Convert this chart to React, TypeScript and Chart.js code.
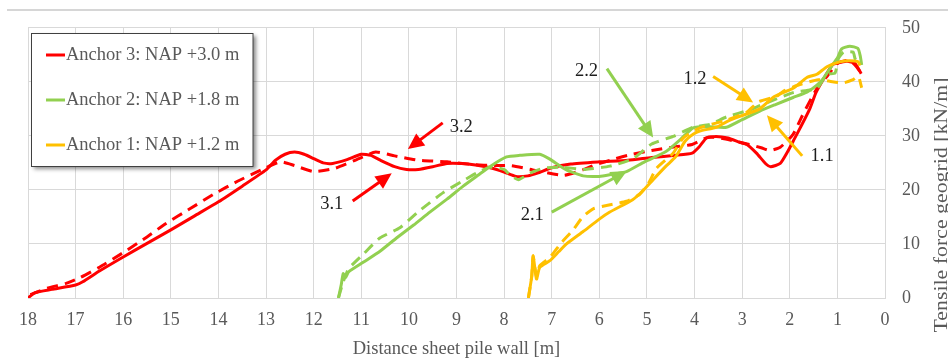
import React, { useEffect, useRef } from 'react';
import { Chart, registerables } from 'chart.js';

Chart.register(...registerables);

// ---- Data (distance to sheet pile wall [m], tensile force [kN/m]) ----
const anchor3Solid: number[][] = [
  [18, 0], [17.85, 1], [17.5, 1.6], [17, 2.4], [16.85, 3], [16.5, 5], [16, 7.6], [15.5, 10.1],
  [15, 12.6], [14.5, 15.2], [14, 17.8], [13.5, 20.7], [13, 23.7], [12.8, 25.5], [12.6, 26.6],
  [12.4, 27.0], [12.2, 26.6], [12, 25.8], [11.8, 25.0], [11.6, 24.9], [11.3, 25.6], [11, 26.6],
  [10.8, 26.4], [10.6, 25.5], [10.3, 24.3], [10.05, 23.8], [9.8, 23.8], [9.5, 24.3], [9.2, 24.9],
  [8.9, 24.9], [8.6, 24.6], [8.25, 24.0], [8, 23.3], [7.75, 22.5], [7.5, 22.6], [7.3, 23.1],
  [7, 24.1], [6.6, 24.8], [6, 25.2], [5.4, 25.5], [4.9, 26.0], [4.4, 26.4], [4.05, 26.8],
  [3.9, 28.0], [3.75, 29.6], [3.55, 29.9], [3.3, 29.6], [3.05, 28.8], [2.9, 28.4], [2.7, 26.8],
  [2.5, 24.8], [2.4, 24.3], [2.2, 24.9], [2.05, 27], [1.9, 29.5], [1.75, 32], [1.58, 35],
  [1.45, 38], [1.3, 40.4], [1.1, 43.2], [1.0, 43.5], [0.8, 43.8], [0.63, 43.4], [0.5, 41.5],
];
const anchor3Dashed: number[][] = [
  [17.95, 0.6], [17.6, 1.8], [17.2, 2.7], [16.9, 3.8], [16.5, 5.7], [16, 8.4], [15.5, 11.3],
  [15.1, 13.8], [14.6, 16.5], [14.1, 19.2], [13.6, 21.6], [13.1, 23.7], [12.7, 25.2], [12.4, 24.5],
  [12, 23.4], [11.55, 24.0], [11.05, 25.8], [10.7, 27.0], [10.3, 26.3], [9.8, 25.5], [9.2, 25.2],
  [8.65, 24.7], [8.2, 24.5], [7.85, 24.5], [7.4, 23.7], [6.75, 22.7], [6.35, 23.7], [6.1, 24.6],
  [5.65, 25.8], [5.4, 26.4], [4.9, 27.3], [4.4, 28], [4.05, 28.4], [3.7, 29.8], [3.35, 29.4],
  [2.85, 28.4], [2.6, 27.8], [2.42, 27.3], [2.2, 27.9], [1.93, 30.3], [1.75, 33.5], [1.55, 36.9],
  [1.4, 39.2], [1.22, 41.0], [1.0, 43.4], [0.75, 44.0], [0.6, 42.8], [0.5, 41.6],
];
const anchor2Solid: number[][] = [
  [11.48, 0], [11.42, 2.5], [11.38, 4.5], [11.33, 3.8], [11.27, 4.8], [10.96, 6.6], [10.6, 8.7],
  [10.26, 11.1], [9.9, 13.5], [9.56, 15.9], [9.2, 18.3], [8.86, 20.7], [8.55, 22.7], [8.3, 24.3],
  [7.95, 26.1], [7.67, 26.4], [7.25, 26.6], [7.04, 25.7], [6.69, 23.7], [6.34, 22.6], [6.0, 22.5],
  [5.78, 22.8], [5.43, 23.4], [5.05, 25.2], [4.6, 27.1], [4.3, 29.3], [4.03, 31.5], [3.7, 31.7],
  [3.33, 31.6], [3.0, 33.0], [2.63, 34.6], [2.3, 35.8], [1.93, 37.1], [1.64, 38.1], [1.43, 39.4],
  [1.29, 40.7], [1.1, 43.2], [1.0, 44.4], [0.91, 46.1], [0.74, 46.6], [0.57, 46.2], [0.52, 44.8],
  [0.49, 43.1],
];
const anchor2Dashed: number[][] = [
  [11.48, 0], [11.38, 3], [11.3, 4.8], [11.24, 5.7], [10.96, 8.1], [10.61, 11.1], [10.19, 13.0],
  [9.77, 16.2], [9.28, 19.5], [8.9, 21.5], [8.58, 23.1], [8.3, 24.2], [8.0, 23.8], [7.88, 22.8],
  [7.7, 21.9], [7.46, 23.1], [7.18, 24.0], [6.8, 24.2], [6.3, 23.8], [5.78, 24.4], [5.29, 25.8],
  [4.9, 28.5], [4.45, 29.9], [4.03, 31.6], [3.68, 32.1], [3.33, 33.5], [2.84, 34.8], [2.63, 35.6],
  [1.93, 38.0], [1.43, 38.8], [1.22, 41.4], [1.05, 41.6], [0.98, 44.3], [0.87, 45.5], [0.67, 45.5],
  [0.63, 44.3], [0.6, 44.0],
];
const anchor1Solid: number[][] = [
  [7.49, 0], [7.42, 4], [7.39, 7.8], [7.32, 3.5], [7.25, 5.7], [7.04, 6.9], [6.85, 8.6], [6.69, 10.0],
  [6.34, 12.3], [6.0, 14.6], [5.78, 15.9], [5.3, 18.2], [5.08, 19.9], [4.87, 21.9], [4.6, 24.4],
  [4.4, 26.1], [4.2, 29.0], [4.03, 30.3], [3.89, 30.9], [3.54, 31.6], [3.33, 32.6], [3.05, 33.6],
  [2.63, 35.0], [2.34, 37.2], [1.93, 38.8], [1.64, 40.8], [1.43, 41.4], [1.22, 42.8], [0.95, 43.7],
  [0.74, 43.9], [0.56, 43.7], [0.53, 43.0],
];
const anchor1Dashed: number[][] = [
  [7.49, 0], [7.42, 4], [7.39, 7.8], [7.32, 4], [7.25, 6], [7.04, 7.5], [6.8, 10.2], [6.55, 12.6],
  [6.35, 15.0], [6.13, 16.5], [5.8, 17.2], [5.43, 17.9], [5.15, 19.2], [4.95, 21.5], [4.8, 24.0],
  [4.45, 26.8], [4.24, 29.6], [3.89, 31.5], [3.33, 32.9], [2.9, 34.4], [2.66, 36.3], [2.28, 37.3],
  [2.13, 38.3], [1.79, 39.5], [1.4, 40.4], [1.16, 40.1], [0.88, 39.8], [0.67, 40.4], [0.56, 41.0],
  [0.49, 38.9],
];

const legendLabels = ['Anchor 3: NAP +3.0 m', 'Anchor 2: NAP +1.8 m', 'Anchor 1: NAP +1.2 m'];
const xTitle = 'Distance sheet pile wall [m]';
const yTitle = 'Tensile force geogrid [kN/m]';

// Arrow annotations (in data units)
const arrowLabels = ['3.2', '3.1', '2.2', '2.1', '1.2', '1.1'];
const arrowTails = [[9.29, 32.4], [11.18, 17.95], [5.84, 42.46], [7.0, 15.9], [3.61, 41.0], [1.74, 26.3]];
const arrowTips = [[10.02, 27.56], [10.36, 23.07], [4.87, 29.7], [5.42, 23.5], [2.77, 36.2], [2.48, 33.8]];
const arrowTextAt = [[8.9, 31.7], [11.62, 17.4], [6.27, 41.9], [7.41, 15.35], [3.99, 40.5], [1.32, 26.3]];

const RED = '#FF0000';
const GREEN = '#92D050';
const YELLOW = '#FFC000';
const arrowColors = [RED, RED, GREEN, GREEN, YELLOW, YELLOW];
const legendColors = [RED, GREEN, YELLOW];

const FONT = '"Liberation Serif", "Times New Roman", serif';
const TEXT_GRAY = '#595959';

const toPts = (arr: number[][]) => arr.map(([x, y]) => ({ x, y }));
const mk = (label: string, data: number[][], color: string, dashed: boolean) => ({
  label,
  data: toPts(data),
  borderColor: color,
  backgroundColor: color,
  borderWidth: 3,
  borderDash: dashed ? [11, 7] : [],
  borderCapStyle: 'butt' as const,
  borderJoinStyle: 'round' as const,
  pointRadius: 0,
  pointHoverRadius: 0,
  showLine: true,
  tension: 0.18,
  fill: false,
});

const decorPlugin = {
  id: 'decor',
  beforeDraw(chart: any) {
    const ctx = chart.ctx;
    ctx.save();
    ctx.fillStyle = '#ffffff';
    ctx.fillRect(0, 0, chart.width, chart.height);
    ctx.strokeStyle = '#c8c8c8';
    ctx.lineWidth = 1.5;
    ctx.beginPath();
    ctx.moveTo(7, 10);
    ctx.lineTo(chart.width, 10);
    ctx.stroke();
    ctx.restore();
  },
  afterDatasetsDraw(chart: any) {
    const ctx = chart.ctx;
    const xs = chart.scales.x;
    const ys = chart.scales.y;
    ctx.save();
    arrowLabels.forEach((lab, i) => {
      const tx = xs.getPixelForValue(arrowTails[i][0]);
      const ty = ys.getPixelForValue(arrowTails[i][1]);
      const px = xs.getPixelForValue(arrowTips[i][0]);
      const py = ys.getPixelForValue(arrowTips[i][1]);
      const ang = Math.atan2(py - ty, px - tx);
      const L = 16, W = 7.5;
      const ux = Math.cos(ang), uy = Math.sin(ang);
      const bx = px - ux * L, by = py - uy * L;
      ctx.strokeStyle = arrowColors[i];
      ctx.fillStyle = arrowColors[i];
      ctx.lineWidth = 3;
      ctx.lineCap = 'butt';
      ctx.beginPath();
      ctx.moveTo(tx, ty);
      ctx.lineTo(bx + ux * 2, by + uy * 2);
      ctx.stroke();
      ctx.beginPath();
      ctx.moveTo(px, py);
      ctx.lineTo(bx - uy * W, by + ux * W);
      ctx.lineTo(bx + uy * W, by - ux * W);
      ctx.closePath();
      ctx.fill();
      ctx.fillStyle = '#1e1e1e';
      ctx.font = `18.5px ${FONT}`;
      ctx.textAlign = 'center';
      ctx.textBaseline = 'middle';
      ctx.fillText(lab, xs.getPixelForValue(arrowTextAt[i][0]), ys.getPixelForValue(arrowTextAt[i][1]));
    });
    ctx.restore();
  },
  afterDraw(chart: any) {
    const ctx = chart.ctx;
    ctx.save();
    // legend box
    const bx = 31.5, by = 33.5, bw = 221.5, bh = 133;
    ctx.shadowColor = 'rgba(0,0,0,0.45)';
    ctx.shadowBlur = 4;
    ctx.shadowOffsetX = 2.5;
    ctx.shadowOffsetY = 2.5;
    ctx.fillStyle = '#ffffff';
    ctx.fillRect(bx, by, bw, bh);
    ctx.shadowColor = 'transparent';
    ctx.shadowBlur = 0;
    ctx.shadowOffsetX = 0;
    ctx.shadowOffsetY = 0;
    ctx.strokeStyle = '#404040';
    ctx.lineWidth = 1;
    ctx.strokeRect(bx, by, bw, bh);
    const rowsY = [55, 100, 145];
    legendLabels.forEach((lab, i) => {
      ctx.strokeStyle = legendColors[i];
      ctx.lineWidth = 3;
      ctx.beginPath();
      ctx.moveTo(46, rowsY[i]);
      ctx.lineTo(65, rowsY[i]);
      ctx.stroke();
      ctx.fillStyle = TEXT_GRAY;
      ctx.font = `18.5px ${FONT}`;
      ctx.textAlign = 'left';
      ctx.textBaseline = 'middle';
      ctx.fillText(lab, 66, rowsY[i]);
    });
    // right-hand axis title, reading bottom to top
    ctx.translate(947, 205);
    ctx.rotate(-Math.PI / 2);
    ctx.scale(1.18, 1);
    ctx.fillStyle = TEXT_GRAY;
    ctx.font = `18.5px ${FONT}`;
    ctx.textAlign = 'center';
    ctx.textBaseline = 'alphabetic';
    ctx.fillText(yTitle, 0, 0);
    ctx.restore();
  },
};

export default function App() {
  const canvasRef = useRef<HTMLCanvasElement | null>(null);

  useEffect(() => {
    if (!canvasRef.current) return;
    const chart = new Chart(canvasRef.current, {
      type: 'scatter',
      data: {
        datasets: [
          mk(legendLabels[2], anchor1Solid, YELLOW, false),
          mk(legendLabels[2] + ' (dashed)', anchor1Dashed, YELLOW, true),
          mk(legendLabels[1], anchor2Solid, GREEN, false),
          mk(legendLabels[1] + ' (dashed)', anchor2Dashed, GREEN, true),
          mk(legendLabels[0], anchor3Solid, RED, false),
          mk(legendLabels[0] + ' (dashed)', anchor3Dashed, RED, true),
        ] as any,
      },
      options: {
        animation: false,
        responsive: false,
        devicePixelRatio: 1,
        layout: { padding: { left: 28, top: 20, right: 0, bottom: 0 } },
        plugins: {
          legend: { display: false },
          tooltip: { enabled: false },
        },
        scales: {
          x: {
            type: 'linear',
            reverse: true,
            min: 0,
            max: 18,
            afterFit: (s: any) => { s.height = 62; },
            ticks: {
              stepSize: 1,
              autoSkip: false,
              maxRotation: 0,
              padding: 11,
              color: TEXT_GRAY,
              font: { family: FONT, size: 18 },
            },
            grid: { color: '#d9d9d9', lineWidth: 1, drawTicks: false },
            border: { color: '#d9d9d9' },
            title: {
              display: true,
              text: xTitle,
              color: TEXT_GRAY,
              font: { family: FONT, size: 18.5 },
              padding: { top: 0, bottom: 0 },
            },
          },
          y: {
            type: 'linear',
            position: 'right',
            min: 0,
            max: 50,
            afterFit: (s: any) => { s.width = 63; },
            ticks: {
              stepSize: 10,
              padding: 17,
              color: TEXT_GRAY,
              font: { family: FONT, size: 18 },
            },
            grid: { color: '#d9d9d9', lineWidth: 1, drawTicks: false },
            border: { color: '#d9d9d9' },
          },
        },
      } as any,
      plugins: [decorPlugin],
    });
    return () => chart.destroy();
  }, []);

  return (
    <div style={{ position: 'absolute', left: 0, top: 0, width: 948, height: 360, background: '#fff' }}>
      <canvas ref={canvasRef} width={948} height={360} style={{ display: 'block', width: 948, height: 360 }} />
    </div>
  );
}
